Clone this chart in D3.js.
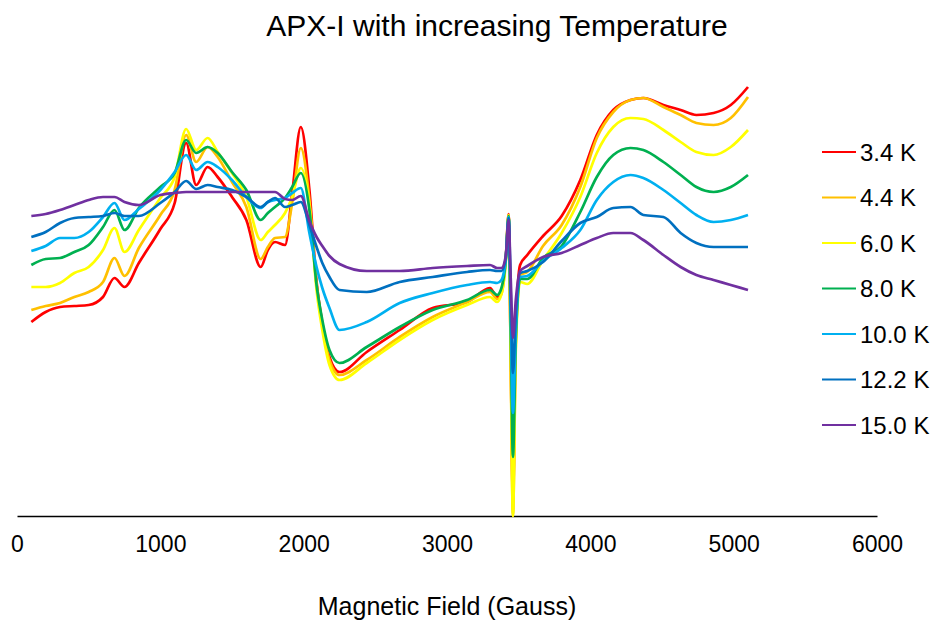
<!DOCTYPE html>
<html>
<head>
<meta charset="utf-8">
<title>APX-I with increasing Temperature</title>
<script src="https://cdn.jsdelivr.net/npm/d3@7"></script>
<style>
  body { margin: 0; background: #fff; }
  svg text { font-family: "Liberation Sans", Arial, sans-serif; fill: #000; }
</style>
</head>
<body>
<svg id="chart" width="938" height="625"></svg>
<script>
// magnetic field (Gauss) sample points shared by all traces
var fields = [100, 200, 300, 400, 500, 600, 680, 750, 850, 1000,
  1100, 1180, 1250, 1330, 1400, 1500, 1600, 1700, 1750, 1800,
  1870, 1920, 1980, 2040, 2090, 2130, 2180, 2250, 2440, 2670,
  2900, 3140, 3300, 3350, 3380, 3410, 3430, 3445, 3460, 3480,
  3510, 3560, 3670, 3800, 3930, 4045, 4160, 4280, 4370, 4510,
  4630, 4740, 4860, 4980, 5100];

// signal (arbitrary units)
var t34 = [194, 204, 209, 210, 211, 219, 238, 229, 253, 287,
  313, 373, 331, 349, 339, 319, 296, 249, 266, 274,
  271, 323, 389, 326, 234, 193, 159, 144, 164, 186,
  208, 214, 228, 219, 226, 258, 302, 156, 16, 186,
  251, 261, 280, 300, 336, 381, 406, 416, 418, 411,
  406, 401, 403, 411, 429];
var t44 = [206, 210, 213, 219, 224, 234, 258, 240, 268, 301,
  326, 381, 354, 369, 359, 334, 309, 257, 269, 278,
  279, 313, 368, 316, 231, 191, 156, 141, 156, 179,
  199, 214, 224, 217, 222, 256, 301, 151, 0, 171,
  241, 244, 270, 291, 329, 378, 404, 416, 418, 409,
  401, 393, 391, 398, 419];
var t60 = [229, 229, 233, 243, 249, 266, 288, 264, 286, 318,
  339, 387, 366, 378, 364, 343, 319, 276, 284, 291,
  303, 319, 348, 311, 226, 186, 151, 136, 153, 176,
  196, 211, 219, 214, 222, 254, 301, 151, 0, 166,
  234, 232, 256, 283, 319, 363, 389, 398, 397, 386,
  374, 364, 361, 369, 386];
var t80 = [251, 257, 258, 264, 271, 289, 306, 286, 308, 329,
  343, 376, 363, 369, 363, 344, 326, 296, 303, 309,
  318, 329, 343, 306, 231, 196, 166, 153, 169, 189,
  206, 216, 226, 221, 228, 256, 300, 181, 59, 176,
  237, 237, 258, 270, 304, 339, 361, 368, 366, 354,
  341, 329, 324, 329, 341];
var t100 = [265, 270, 278, 278, 284, 299, 313, 296, 307, 326,
  344, 361, 346, 354, 349, 336, 319, 308, 314, 316,
  318, 323, 328, 283, 249, 228, 208, 186, 194, 213,
  223, 231, 234, 233, 236, 258, 299, 201, 103, 186,
  239, 240, 255, 268, 286, 316, 334, 341, 338, 326,
  313, 301, 294, 296, 301];
var t122 = [279, 284, 293, 298, 299, 300, 303, 300, 300, 313,
  324, 335, 327, 331, 329, 326, 319, 309, 314, 318,
  309, 311, 314, 291, 269, 253, 239, 226, 224, 234,
  239, 244, 246, 245, 245, 258, 298, 221, 143, 201,
  243, 245, 254, 275, 293, 299, 308, 309, 301, 299,
  283, 273, 269, 269, 269];
var t150 = [300, 302, 306, 311, 316, 319, 319, 314, 311, 321,
  323, 324, 324, 324, 324, 324, 324, 324, 324, 324,
  317, 316, 320, 295, 279, 270, 260, 252, 245, 245,
  248, 250, 251, 248, 248, 260, 296, 236, 178, 216,
  245, 250, 259, 263, 271, 278, 283, 283, 276, 261,
  249, 241, 236, 231, 226];

var seriesNames = ["3.4 K", "4.4 K", "6.0 K", "8.0 K", "10.0 K", "12.2 K", "15.0 K"];
var seriesValues = [t34, t44, t60, t80, t100, t122, t150];
var seriesColors = ["#FF0000", "#FFC000", "#FFFF00", "#00B050", "#00B0F0", "#0070C0", "#7030A0"];
var xTicks = [0, 1000, 2000, 3000, 4000, 5000, 6000];

var svg = d3.select("#chart");

var x = d3.scaleLinear().domain([0, 6000]).range([17, 877]);
var y = d3.scaleLinear().domain([0, 440]).range([516, 76]);

// title
svg.append("text")
  .attr("x", 497).attr("y", 36)
  .attr("text-anchor", "middle")
  .style("font-size", "30px")
  .text("APX-I with increasing Temperature");

// x axis (baseline + labels, no tick marks)
var xAxis = svg.append("g")
  .attr("transform", "translate(0," + y(0) + ")")
  .call(d3.axisBottom(x).tickValues(xTicks).tickSize(0).tickPadding(20)
    .tickFormat(d3.format("d")).tickSizeOuter(0));
xAxis.select(".domain").attr("stroke", "#000").attr("stroke-width", 1.5);
xAxis.selectAll("text")
  .style("font-size", "23px")
  .style("font-family", "'Liberation Sans', Arial, sans-serif");

svg.append("text")
  .attr("x", 447).attr("y", 615)
  .attr("text-anchor", "middle")
  .style("font-size", "25px")
  .text("Magnetic Field (Gauss)");

// traces
var line = d3.line()
  .x(function(d, i) { return x(fields[i]); })
  .y(function(d) { return y(d); })
  .curve(d3.curveMonotoneX);

svg.append("g")
  .selectAll("path")
  .data(seriesValues)
  .enter()
  .append("path")
  .attr("fill", "none")
  .attr("stroke", function(d, i) { return seriesColors[i]; })
  .attr("stroke-width", 2.7)
  .attr("stroke-linejoin", "round")
  .attr("d", line);

// legend
var legend = svg.append("g")
  .selectAll("g")
  .data(seriesNames)
  .enter()
  .append("g")
  .attr("transform", function(d, i) { return "translate(822," + (152 + i * 45.5) + ")"; });

legend.append("line")
  .attr("x1", 0).attr("x2", 34)
  .attr("stroke", function(d, i) { return seriesColors[i]; })
  .attr("stroke-width", 2.2);

legend.append("text")
  .attr("x", 38).attr("dy", "0.36em")
  .style("font-size", "24px")
  .text(function(d) { return d; });
</script>
</body>
</html>
